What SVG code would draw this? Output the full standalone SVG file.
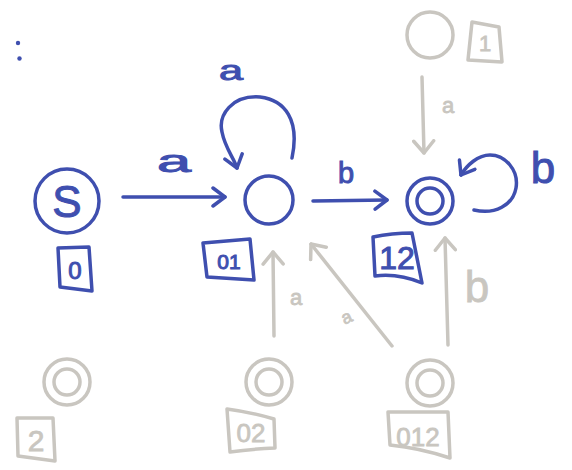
<svg xmlns="http://www.w3.org/2000/svg" width="572" height="470" viewBox="0 0 572 470">
<style>
.b{stroke:#3f4faf;fill:none;stroke-width:3.5;stroke-linecap:round;stroke-linejoin:round}
.g{stroke:#c9c6c0;fill:none;stroke-width:3.5;stroke-linecap:round;stroke-linejoin:round}
.tb{fill:#3f4faf;stroke:#3f4faf;stroke-width:1;font-family:"Liberation Sans",Arial,sans-serif;text-anchor:middle}
.tg{fill:#c9c6c0;stroke:#c9c6c0;stroke-width:0.8;font-family:"Liberation Sans",Arial,sans-serif;text-anchor:middle}
</style>
<defs>
<marker id="ab" viewBox="0 0 16 22" refX="14" refY="11" markerWidth="16" markerHeight="22" markerUnits="userSpaceOnUse" orient="auto">
<path d="M2,2 L14,11 L2,20" fill="none" stroke="#3f4faf" stroke-width="3.5" stroke-linecap="round" stroke-linejoin="round"/>
</marker>
<marker id="ag" viewBox="0 0 16 24" refX="14" refY="12" markerWidth="16" markerHeight="24" markerUnits="userSpaceOnUse" orient="auto">
<path d="M2,2 L14,12 L2,22" fill="none" stroke="#c9c6c0" stroke-width="3.5" stroke-linecap="round" stroke-linejoin="round"/>
</marker>
</defs>
<rect width="572" height="470" fill="#ffffff"/>
<g id="colon" fill="#3f4faf">
<circle cx="18" cy="43" r="2.2"/>
<circle cx="19.5" cy="58.5" r="2.2"/>
</g>
<g id="connectors">
<path class="b" d="M123,197 L225,197" marker-end="url(#ab)"/>
<path class="b" d="M292,158 C300,120 285,100 260,97 C232,95 218,115 222,132 C225,148 234,158 237,168" marker-end="url(#ab)"/>
<path class="b" d="M313,201 L387,200" marker-end="url(#ab)"/>
<path class="b" d="M474,210 C495,215 513,205 516,188 C519,170 505,155 490,155 C478,155 467,165 461,175" marker-end="url(#ab)"/>
<path class="g" d="M422,77 L424,153" marker-end="url(#ag)"/>
<path class="g" d="M274,336 L273,252" marker-end="url(#ag)"/>
<path class="g" d="M392,346 L311,244" marker-end="url(#ag)"/>
<path class="g" d="M448,345 L445,238" marker-end="url(#ag)"/>
<text class="tb" x="174" y="172" font-size="32" textLength="34" lengthAdjust="spacingAndGlyphs">a</text>
<text class="tb" x="231" y="80" font-size="28" textLength="24" lengthAdjust="spacingAndGlyphs">a</text>
<text class="tb" x="346" y="183" font-size="29">b</text>
<text class="tb" x="543" y="183" font-size="44" stroke-width="1.5">b</text>
<text class="tg" x="448" y="113" font-size="22">a</text>
<text class="tg" x="296" y="305" font-size="22">a</text>
<text class="tg" x="347" y="323" font-size="18" transform="rotate(-25 347 318)">a</text>
<text class="tg" x="477" y="302" font-size="44">b</text>
</g>
<g id="node-S">
<circle class="b" cx="67" cy="201" r="32"/>
<text class="tb" x="67" y="217" font-size="44">S</text>
<path class="b" d="M58,248 L89,247 L92,291 L60,287 Z"/>
<text class="tb" x="75" y="279" font-size="24" stroke-width="1.5">0</text>
</g>
<g id="node-01">
<circle class="b" cx="269" cy="200" r="24"/>
<path class="b" d="M203,243 L250,239 L254,280 L207,277 Z"/>
<text class="tb" x="229" y="269" font-size="21" stroke-width="1.5">01</text>
</g>
<g id="node-12">
<circle class="b" cx="430" cy="201" r="23"/>
<circle class="b" cx="430" cy="201" r="13"/>
<path class="b" d="M373,237 Q392,233 412,233 Q417,258 422,283 Q398,273 375,276 Z"/>
<text class="tb" x="397" y="269" font-size="32" stroke-width="1.5">12</text>
</g>
<g id="node-1">
<circle class="g" cx="430" cy="35" r="23"/>
<path class="g" d="M472,22 L499,27 L502,62 L468,60 Z"/>
<text class="tg" x="485" y="51" font-size="22">1</text>
</g>
<g id="node-2">
<circle class="g" cx="67" cy="382" r="23"/>
<circle class="g" cx="67" cy="382" r="13"/>
<path class="g" d="M17,418 L53,418 L55,461 L18,456 Z"/>
<text class="tg" x="36" y="451" font-size="30">2</text>
</g>
<g id="node-02">
<circle class="g" cx="269" cy="382" r="23"/>
<circle class="g" cx="269" cy="382" r="13"/>
<path class="g" d="M227,409 Q250,412 274,419 L275,448 Q252,449 230,452 Z"/>
<text class="tg" x="251" y="442" font-size="26">02</text>
</g>
<g id="node-012">
<circle class="g" cx="430" cy="383" r="23"/>
<circle class="g" cx="430" cy="383" r="13"/>
<path class="g" d="M388,412 L448,412 L450,458 Q420,448 390,445 Z"/>
<text class="tg" x="418" y="446" font-size="26">012</text>
</g>
</svg>
